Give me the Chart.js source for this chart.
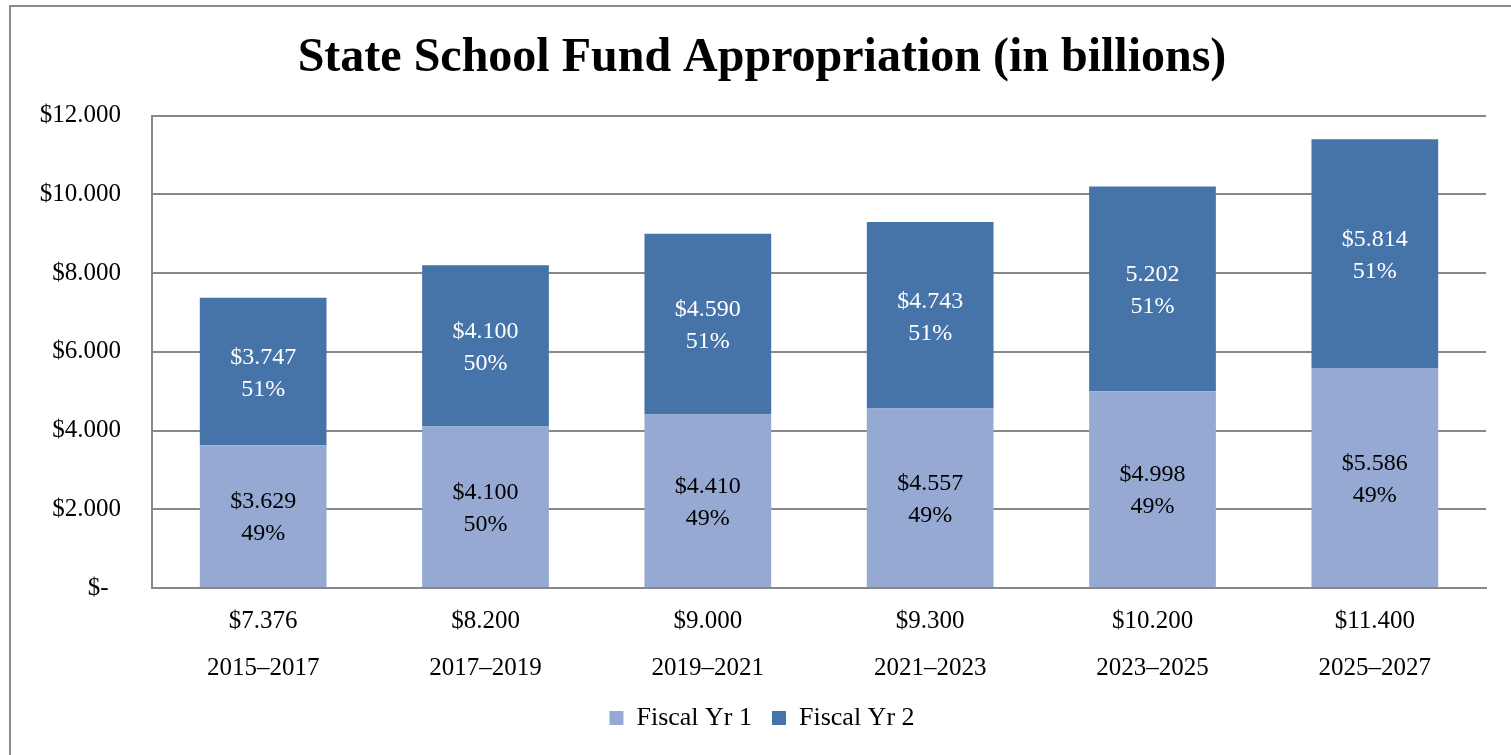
<!DOCTYPE html>
<html>
<head>
<meta charset="utf-8">
<script src="https://cdn.jsdelivr.net/npm/chart.js@4/dist/chart.umd.min.js"></script>
<style>
  html, body { margin: 0; padding: 0; background: #fff; width: 1511px; height: 755px; overflow: hidden; }
  #frame { position: absolute; left: 9px; top: 5px; width: 1510px; height: 800px; border: 2px solid #8a8a8a; box-sizing: border-box; }
  #wrap { position: absolute; left: 0; top: 0; width: 1511px; height: 755px; }
</style>
</head>
<body>
<div id="frame"></div>
<div id="wrap"><canvas id="c" width="1511" height="755"></canvas></div>
<script>
const periods = ["2015–2017", "2017–2019", "2019–2021", "2021–2023", "2023–2025", "2025–2027"];
const totals = ["$7.376", "$8.200", "$9.000", "$9.300", "$10.200", "$11.400"];
const fiscalYr1 = [3.629, 4.100, 4.410, 4.557, 4.998, 5.586];
const fiscalYr2 = [3.747, 4.100, 4.590, 4.743, 5.202, 5.814];
const yr1Labels = ["$3.629", "$4.100", "$4.410", "$4.557", "$4.998", "$5.586"];
const yr2Labels = ["$3.747", "$4.100", "$4.590", "$4.743", "5.202", "$5.814"];
const yr1Pct = ["49%", "50%", "49%", "49%", "49%", "49%"];
const yr2Pct = ["51%", "50%", "51%", "51%", "51%", "51%"];
const yTicks = [0, 2, 4, 6, 8, 10, 12];

const FONT = "'Liberation Serif', 'Times New Roman', serif";
const COL1 = "#95A9D3";
const COL2 = "#4674A9";

const segLabels = {
  id: 'segLabels',
  afterDatasetsDraw(chart) {
    const ctx = chart.ctx;
    const sets = [
      { idx: 0, vals: yr1Labels, pct: yr1Pct, color: '#000' },
      { idx: 1, vals: yr2Labels, pct: yr2Pct, color: '#fff' }
    ];
    ctx.save();
    ctx.font = "24px " + FONT;
    ctx.textAlign = 'center';
    ctx.textBaseline = 'middle';
    sets.forEach(s => {
      const meta = chart.getDatasetMeta(s.idx);
      meta.data.forEach((el, i) => {
        const p = el.getProps(['x', 'y', 'base'], true);
        const cy = (p.y + p.base) / 2;
        ctx.fillStyle = s.color;
        ctx.fillText(s.vals[i], p.x, cy - 14);
        ctx.fillText(s.pct[i], p.x, cy + 18);
      });
    });
    ctx.restore();
  }
};

Chart.defaults.font.family = FONT;
Chart.defaults.color = '#000';

new Chart(document.getElementById('c'), {
  type: 'bar',
  data: {
    labels: periods.map((p, i) => [totals[i], p]),
    datasets: [
      { label: 'Fiscal Yr 1', data: fiscalYr1, backgroundColor: COL1, borderWidth: 0, categoryPercentage: 0.57, barPercentage: 1.0 },
      { label: 'Fiscal Yr 2', data: fiscalYr2, backgroundColor: COL2, borderWidth: 0, categoryPercentage: 0.57, barPercentage: 1.0 }
    ]
  },
  options: {
    responsive: false,
    animation: false,
    devicePixelRatio: 1,
    layout: { padding: { left: 38, right: 25, top: 0, bottom: 14 } },
    plugins: {
      title: {
        display: true,
        text: 'State School Fund Appropriation (in billions)',
        font: { size: 48, weight: 'bold', family: FONT },
        color: '#000',
        padding: { top: 30, bottom: 28 }
      },
      legend: {
        position: 'bottom',
        labels: {
          boxWidth: 14, boxHeight: 14,
          font: { size: 26, family: FONT },
          color: '#000',
          padding: 20
        }
      },
      tooltip: { enabled: false }
    },
    scales: {
      x: {
        stacked: true,
        afterFit(scale) { scale.height = 97; },
        grid: { display: false, drawTicks: false },
        border: { display: true, color: '#888', width: 2 },
        ticks: { font: { size: 25, family: FONT, lineHeight: 1.88 }, color: '#000', padding: 10, maxRotation: 0 }
      },
      y: {
        stacked: true,
        min: 0, max: 12,
        afterBuildTicks(scale) { scale.ticks = yTicks.map(v => ({ value: v })); },
        afterFit(scale) { scale.width = 114; },
        grid: { color: '#888', lineWidth: 2, drawTicks: false },
        border: { display: true, color: '#888', width: 2 },
        ticks: {
          font: { size: 25, family: FONT },
          color: '#000',
          padding: 31,
          callback(v) { return v === 0 ? '$-  ' : '$' + v.toFixed(3); }
        }
      }
    }
  },
  plugins: [segLabels]
});
</script>
</body>
</html>
